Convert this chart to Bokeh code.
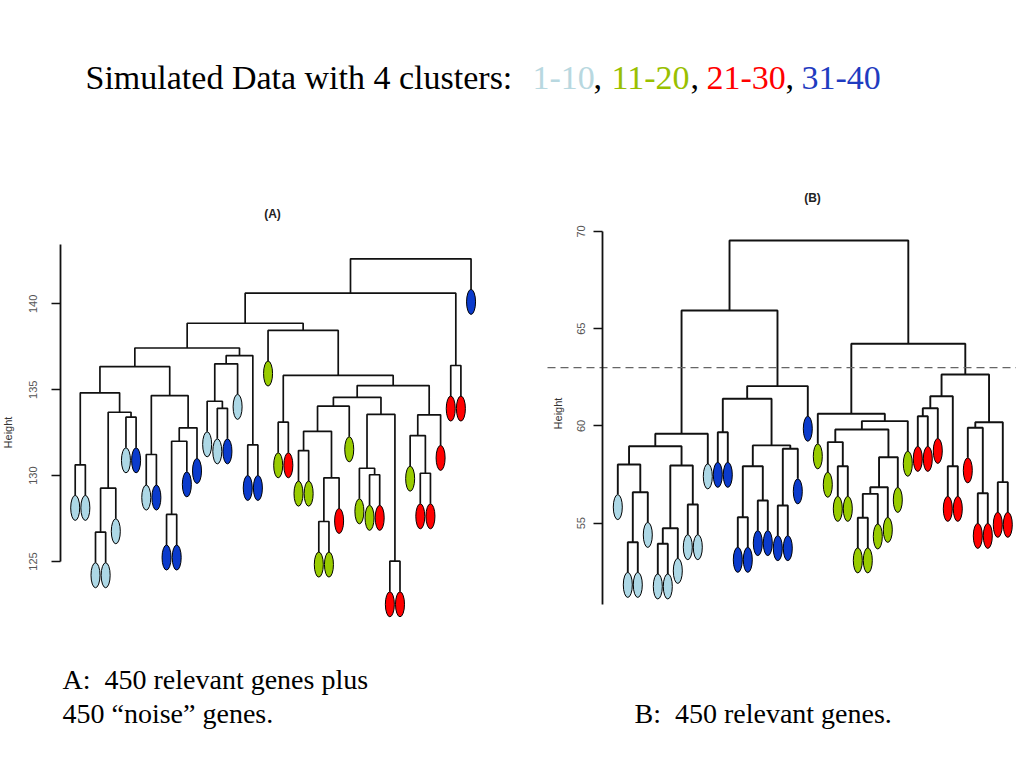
import math
from bokeh.plotting import figure
from bokeh.models import Range1d, LinearAxis, FixedTicker
from bokeh.embed import file_html
from bokeh.resources import INLINE
from bokeh.core.properties import value

# ---------------- data ----------------
title_parts = ["Simulated Data with 4 clusters:", "1-10", ",", "11-20", ",", "21-30", ",", "31-40"]
title_colors = ["#000000", "#b8d8e0", "#000000", "#99c000", "#000000", "#ff0000", "#000000", "#1f3cc0"]

cluster_fill = {1: "#add8e6", 2: "#99cc00", 3: "#ff0000", 4: "#0b3bcc"}

# Dendrogram A (leaf order left to right; cluster of each leaf)
a_clusters = [1, 1, 1, 1, 1, 1, 4, 1, 4, 4, 4, 4, 4, 1, 1, 4, 1, 4, 4, 2,
              2, 3, 2, 2, 2, 2, 3, 2, 2, 2, 3, 3, 3, 2, 3, 3, 3, 3, 3, 4]
# hclust-style merges: negative = leaf position, positive = earlier merge
a_merge = [(-1, -2), (-3, -4), (2, -5), (-6, -7), (3, 4), (1, 5), (-8, -9), (-10, -11),
           (8, -12), (9, -13), (7, 10), (6, 11), (-15, -16), (-14, 13), (14, -17), (-18, -19),
           (15, 16), (12, 17), (-21, -22), (-23, -24), (-25, -26), (21, -27), (20, 22), (23, -28),
           (-30, -31), (-29, 25), (-32, -33), (26, 27), (24, 28), (-35, -36), (-34, 30), (31, -37),
           (29, 32), (19, 33), (-20, 34), (18, 35), (-38, -39), (36, 37), (38, -40)]
a_height = [130.63, 126.71, 129.27, 133.40, 133.69, 134.82, 131.23, 127.74, 132.00, 132.78,
            134.66, 136.35, 133.92, 134.33, 136.51, 131.79, 136.99, 137.43, 133.11, 131.46,
            127.33, 129.87, 132.58, 134.04, 130.05, 130.43, 125.02, 133.56, 134.56, 130.14,
            132.33, 133.54, 135.24, 135.83, 138.45, 138.87, 136.41, 140.62, 142.62]
a_hang = 1.78
a_ticks = [125, 130, 135, 140]

# Dendrogram B
b_clusters = [1, 1, 1, 1, 1, 1, 1, 1, 1, 1, 4, 4, 4, 4, 4, 4, 4, 4, 4, 4,
              2, 2, 2, 2, 2, 2, 2, 2, 2, 2, 3, 3, 3, 3, 3, 3, 3, 3, 3, 3]
b_merge = [(-2, -3), (1, -4), (-1, 2), (-5, -6), (4, -7), (-8, -9), (5, 6), (3, 7),
           (8, -10), (-11, -12), (-13, -14), (-15, -16), (11, 12), (-17, -18), (14, -19), (13, 15),
           (10, 16), (17, -20), (9, 18), (-23, -24), (-22, 20), (-25, -26), (22, -27), (23, -28),
           (24, -29), (21, 25), (26, -30), (-21, 27), (-31, -32), (29, -33), (-34, -35), (30, 31),
           (-37, -38), (-36, 33), (-39, -40), (34, 35), (32, 36), (28, 37), (19, 38)]
b_height = [54.02, 56.59, 58.02, 53.94, 54.74, 55.96, 57.97, 58.96, 59.60, 59.68,
            55.31, 56.17, 57.93, 55.91, 58.83, 59.00, 61.40, 62.05, 65.94, 57.93,
            59.17, 55.28, 56.51, 56.85, 58.39, 59.82, 60.25, 60.63, 60.50, 60.91,
            57.93, 61.53, 56.54, 59.91, 57.11, 60.19, 62.65, 64.23, 69.54]
b_hang = 1.55
b_ticks = [55, 60, 65, 70]
b_cut = 63.0

notes = ["A:\u00a0 450 relevant genes plus", "450 \u201cnoise\u201d genes.", "B:\u00a0 450 relevant genes."]

# ---------------- layout ----------------
W, H = 1016, 760
p = figure(width=W, height=H, x_range=Range1d(0, W), y_range=Range1d(H, 0),
           x_axis_type=None, y_axis_type=None, toolbar_location=None,
           output_backend="svg", min_border=0, outline_line_color=None,
           background_fill_color="white", border_fill_color="white")
p.xgrid.visible = False
p.ygrid.visible = False

# ranges of the two dendrogram panels (mapped over the whole canvas)
xa = Range1d(-6.360, 93.74)
ya = Range1d(113.42, 157.654)
xb = Range1d(-60.73, 40.87)
yb = Range1d(42.798, 81.878)
p.extra_x_ranges = {"xa": xa, "xb": xb}
p.extra_y_ranges = {"ya": ya, "yb": yb}


def dendro(merge, height, hang):
    n = len(merge) + 1
    leaf_x = list(range(1, n + 1))
    tips = [None] * n
    node_x, node_y = {}, {}
    xs, ys = [], []
    for j, ((l, r), h) in enumerate(zip(merge, height), start=1):
        pts = []
        for c in (l, r):
            if c < 0:
                cx, cy = leaf_x[-c - 1], h - hang
                tips[-c - 1] = cy
            else:
                cx, cy = node_x[c], node_y[c]
            pts.append((cx, cy))
        node_x[j] = (pts[0][0] + pts[1][0]) / 2.0
        node_y[j] = h
        xs.append([pts[0][0], pts[0][0], pts[1][0], pts[1][0]])
        ys.append([pts[0][1], h, h, pts[1][1]])
    return xs, ys, leaf_x, tips


def draw_panel(merge, height, hang, clusters, xr, yr, xname, yname, lw):
    xs, ys, lx, tips = dendro(merge, height, hang)
    p.multi_line(xs, ys, x_range_name=xname, y_range_name=yname,
                 line_color="#111111", line_width=lw)
    ppx = W / (xr.end - xr.start)
    ppy = H / (yr.end - yr.start)
    ew, eh = 9.0 / ppx, 25.0 / ppy
    p.ellipse(x=lx, y=[t - eh / 2 for t in tips], width=ew, height=eh,
              fill_color=[cluster_fill[c] for c in clusters], line_color="black",
              line_width=1, x_range_name=xname, y_range_name=yname)


draw_panel(a_merge, a_height, a_hang, a_clusters, xa, ya, "xa", "ya", 1.7)
draw_panel(b_merge, b_height, b_hang, b_clusters, xb, yb, "xb", "yb", 1.9)

# cut line on B
p.segment(x0=[547], x1=[W], y0=[b_cut], y1=[b_cut], y_range_name="yb",
          line_color="#666666", line_width=1.3, line_dash="8 5")


def make_axis(yname, loc, ticks, bounds, standoff):
    ax = LinearAxis(y_range_name=yname, fixed_location=loc, ticker=FixedTicker(ticks=ticks),
                    bounds=bounds, major_label_orientation="vertical",
                    major_tick_out=9, major_tick_in=0, minor_tick_out=0, minor_tick_in=0,
                    axis_line_width=1.8, axis_line_color="#111111",
                    major_tick_line_width=1.5, major_tick_line_color="#111111",
                    major_label_text_font="Liberation Sans",
                    major_label_text_font_size="11px", major_label_text_color="#555555",
                    major_label_standoff=standoff)
    p.add_layout(ax, "left")


make_axis("ya", 59.5, a_ticks, (125, 143.45), 14)
make_axis("yb", 601.7, b_ticks, (50.82, 70), 8)

# y labels
p.text(x=[7.5, 557.5], y=[432, 413], text=["Height", "Height"], angle=math.pi / 2,
       text_align="center", text_baseline="middle", text_font=value("Liberation Sans"),
       text_font_size="11px", text_color="#333333")

# panel titles
p.text(x=[272, 812], y=[213, 197], text=["(A)", "(B)"], text_align="center",
       text_baseline="middle", text_font=value("Liberation Sans"), text_font_size="12px",
       text_font_style="bold", text_color="#222222")

# slide title (coloured segments)
title_x = [85, 532, 593, 611, 690, 706, 785, 801]
p.text(x=title_x, y=[77] * len(title_parts), text=title_parts, text_color=title_colors,
       text_align="left", text_baseline="alphabetic", text_font=value("Liberation Serif"),
       text_font_size="34px")

# bottom notes
p.text(x=[62, 62, 634], y=[679, 713, 713], text=notes, text_align="left",
       text_baseline="alphabetic", text_font=value("Liberation Serif"),
       text_font_size="28px", text_color="black")

open("out.html", "w").write(file_html(p, INLINE))
